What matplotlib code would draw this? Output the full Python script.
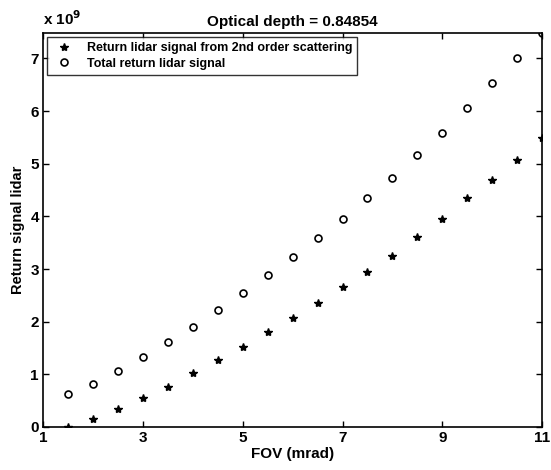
import matplotlib.pyplot as plt

plt.rcParams['font.family'] = ['Liberation Sans', 'DejaVu Sans']
plt.rcParams['font.weight'] = 'bold'

fov = [1.5, 2, 2.5, 3, 3.5, 4, 4.5, 5, 5.5, 6, 6.5, 7, 7.5, 8, 8.5, 9, 9.5, 10, 10.5, 11]
# values in units of 1e9
second_order = [0, 0.16, 0.35, 0.55, 0.76, 1.02, 1.28, 1.52, 1.80, 2.07,
                2.35, 2.65, 2.95, 3.24, 3.60, 3.95, 4.34, 4.70, 5.08, 5.48]
total = [0.62, 0.82, 1.06, 1.33, 1.61, 1.90, 2.22, 2.55, 2.89, 3.23,
         3.59, 3.95, 4.34, 4.73, 5.16, 5.59, 6.06, 6.53, 7.01, 7.48]

fig = plt.figure(figsize=(5.51, 4.70), dpi=100)
ax = fig.add_axes([0.078, 0.0915, 0.906, 0.838])

ax.plot(fov, second_order, '*', color='black', ms=6,
        label='Return lidar signal from 2nd order scattering')
ax.plot(fov, total, 'o', color='black', mfc='none', ms=5, mew=1.2,
        label='Total return lidar signal')

ax.set_xlim(1, 11)
ax.set_ylim(0, 7.48)
ax.set_xticks([1, 3, 5, 7, 9, 11])
ax.set_yticks(range(8))
ax.tick_params(direction='in', top=True, right=True, labelsize=11, length=4, width=1, pad=3)
for lab in ax.get_xticklabels() + ax.get_yticklabels():
    lab.set_fontweight('bold')
for s in ax.spines.values():
    s.set_linewidth(1.2)

ax.set_title('Optical depth = 0.84854', fontsize=11, fontweight='bold', pad=5)
ax.set_xlabel('FOV (mrad)', fontsize=11, fontweight='bold', labelpad=1)
ax.set_ylabel('Return signal lidar', fontsize=10.5, fontweight='bold', labelpad=4)
ax.text(0.0, 1.012, 'x 10$^{9}$', transform=ax.transAxes, fontsize=11,
        fontweight='bold', ha='left', va='bottom')

leg = ax.legend(loc='upper left', fontsize=9, frameon=True, fancybox=False,
                borderaxespad=0.3, handletextpad=0.8, borderpad=0.4, labelspacing=0.3)
leg.get_frame().set_edgecolor('black')
leg.get_frame().set_linewidth(1)
for t in leg.get_texts():
    t.set_fontweight('bold')

plt.savefig('out.png', dpi=100)
